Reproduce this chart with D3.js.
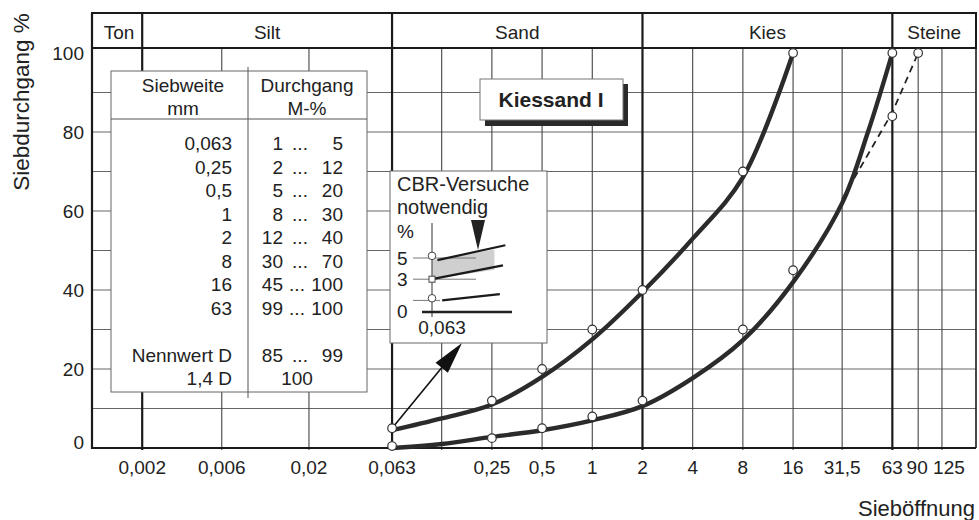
<!DOCTYPE html>
<html>
<head>
<meta charset="utf-8">
<script src="https://cdn.jsdelivr.net/npm/d3@7"></script>
<style>
  body { margin: 0; background: #fff; }
  svg text { font-family: "Liberation Sans", Arial, Helvetica, sans-serif; fill: #222; }
</style>
</head>
<body>
<div id="container"></div>
<script>
// sieve sizes (mm) used for labelled ticks and for the grid
var tickSizes = [0.002, 0.006, 0.02, 0.063, 0.25, 0.5, 1, 2, 4, 8, 16, 31.5, 63, 90, 125];
var gridSizes = [0.002, 0.006, 0.02, 0.063, 0.125, 0.25, 0.5, 1, 2, 4, 8, 16, 31.5, 63, 90, 125];
var classBounds = [0.002, 0.063, 2, 63];
var classNames = ["Ton", "Silt", "Sand", "Kies", "Steine"];
var yTicks = [0, 20, 40, 60, 80, 100];

// limit points from the table (circles)
var upperSieve = [0.063, 0.25, 0.5, 1, 2, 8, 16];
var upperPass = [5, 12, 20, 30, 40, 70, 100];
var lowerSieve = [0.063, 0.25, 0.5, 1, 2, 8, 16, 63];
var lowerPass = [0.5, 2.5, 5, 8, 12, 30, 45, 100];
var nennSieve = [63, 90];
var nennPass = [84, 100];

// drawn envelope curves
var upperCurveSieve = [0.063, 0.125, 0.25, 0.5, 1, 2, 4, 8, 16];
var upperCurvePass = [4.5, 7.5, 11, 18, 27.5, 39.5, 53, 68.5, 100];
var lowerCurveSieve = [0.063, 0.125, 0.25, 0.5, 1, 2, 4, 8, 16, 31.5, 45, 63];
var lowerCurvePass = [0, 1, 2.8, 4.5, 7, 10.6, 17.7, 27.3, 42, 62, 80, 100];
var dashSieve = [31.5, 63, 90];
var dashPass = [63, 85, 100];

// table
var tableSieve = ["0,063", "0,25", "0,5", "1", "2", "8", "16", "63", "", "Nennwert  D", "1,4 D"];
var tableLow = ["1", "2", "5", "8", "12", "30", "45", "99", "", "85", ""];
var tableHigh = ["5", "12", "20", "30", "40", "70", "100", "100", "", "99", ""];

// CBR inset
var cbrTicks = [0, 3, 5];

var W = 979, H = 520;
var svg = d3.select("#container").append("svg").attr("width", W).attr("height", H);

var x = d3.scaleLog().domain([0.001, 200]).range([92, 976]);
var y = d3.scaleLinear().domain([0, 100]).range([448, 53]);
var headTop = 13, headBot = 48;
var fmt = function (v) { return String(v).replace(".", ","); };

// horizontal grid
var hg = d3.range(10, 100, 10);
svg.append("g").selectAll("line").data(hg).enter().append("line")
    .attr("x1", x.range()[0]).attr("x2", x.range()[1])
    .attr("y1", function (d) { return y(d); }).attr("y2", function (d) { return y(d); })
    .attr("stroke", "#666").attr("stroke-width", 1);

// vertical grid
svg.append("g").selectAll("line").data(gridSizes).enter().append("line")
    .attr("x1", function (d) { return x(d); }).attr("x2", function (d) { return x(d); })
    .attr("y1", function (d) { return classBounds.indexOf(d) >= 0 ? headTop : headBot; })
    .attr("y2", y(0) + 2)
    .attr("stroke", function (d) { return classBounds.indexOf(d) >= 0 ? "#1a1a1a" : "#444"; })
    .attr("stroke-width", function (d) { return classBounds.indexOf(d) >= 0 ? 2.2 : 1.1; });

// frame
svg.append("rect").attr("x", x.range()[0]).attr("y", headTop)
    .attr("width", x.range()[1] - x.range()[0]).attr("height", headBot - headTop)
    .attr("fill", "none").attr("stroke", "#1a1a1a").attr("stroke-width", 2);
svg.append("line").attr("x1", x.range()[0]).attr("x2", x.range()[0]).attr("y1", headTop).attr("y2", y(0) + 1)
    .attr("stroke", "#1a1a1a").attr("stroke-width", 2.2);
svg.append("line").attr("x1", x.range()[1]).attr("x2", x.range()[1]).attr("y1", headTop).attr("y2", y(0))
    .attr("stroke", "#1a1a1a").attr("stroke-width", 1.6);
svg.append("line").attr("x1", x.range()[0]).attr("x2", x.range()[1]).attr("y1", y(0)).attr("y2", y(0))
    .attr("stroke", "#1a1a1a").attr("stroke-width", 2.2);

// class names in header
var edges = [x.range()[0]].concat(classBounds.map(x)).concat([x.range()[1]]);
svg.append("g").selectAll("text").data(classNames).enter().append("text")
    .attr("x", function (d, i) { return (edges[i] + edges[i + 1]) / 2 + (i === 0 ? 2 : 0); })
    .attr("y", 39)
    .attr("text-anchor", "middle").attr("font-size", 19)
    .text(function (d) { return d; });

// x tick labels
svg.append("g").selectAll("text").data(tickSizes).enter().append("text")
    .attr("x", function (d) { return x(d) + (d === 125 ? 7 : (d === 90 ? -1 : 0)); })
    .attr("y", 474).attr("text-anchor", "middle").attr("font-size", 19)
    .text(function (d) { return fmt(d); });

// y tick labels
svg.append("g").selectAll("text").data(yTicks).enter().append("text")
    .attr("x", 84).attr("y", function (d) { return y(d) + (d === 0 ? 1 : 7); })
    .attr("text-anchor", "end").attr("font-size", 19)
    .text(function (d) { return d; });

// axis titles
svg.append("text").attr("transform", "translate(29,102) rotate(-90)")
    .attr("text-anchor", "middle").attr("font-size", 22.5).text("Siebdurchgang %");
svg.append("text").attr("x", 975).attr("y", 516).attr("text-anchor", "end")
    .attr("font-size", 22).text("Sieböffnung");

// table box
var tb = { x0: 111, x1: 367, y0: 71, y1: 392, colX: 248, headLine: 119 };
svg.append("rect").attr("x", tb.x0).attr("y", tb.y0).attr("width", tb.x1 - tb.x0).attr("height", tb.y1 - tb.y0)
    .attr("fill", "#fff").attr("stroke", "#666").attr("stroke-width", 1);
svg.append("line").attr("x1", tb.x0).attr("x2", tb.x1).attr("y1", tb.headLine).attr("y2", tb.headLine)
    .attr("stroke", "#555").attr("stroke-width", 1);
svg.append("line").attr("x1", tb.colX).attr("x2", tb.colX).attr("y1", 67).attr("y2", 398)
    .attr("stroke", "#555").attr("stroke-width", 1);
var th = [["Siebweite", "mm", 183], ["Durchgang", "M-%", 307]];
th.forEach(function (h) {
    svg.append("text").attr("x", h[2]).attr("y", 92).attr("text-anchor", "middle").attr("font-size", 19).text(h[0]);
    svg.append("text").attr("x", h[2]).attr("y", 115).attr("text-anchor", "middle").attr("font-size", 19).text(h[1]);
});
var rowY = function (i) { return 150 + i * 23.5; };
var rows = svg.append("g");
tableSieve.forEach(function (s, i) {
    if (!s) return;
    rows.append("text").attr("x", 232).attr("y", rowY(i)).attr("text-anchor", "end").attr("font-size", 19).text(s);
    if (tableLow[i]) {
        rows.append("text").attr("x", 283).attr("y", rowY(i)).attr("text-anchor", "end").attr("font-size", 19).text(tableLow[i]);
        rows.append("text").attr("x", tableHigh[i].length > 2 ? 297 : 300).attr("y", rowY(i)).attr("text-anchor", "middle").attr("font-size", 19).text("...");
        rows.append("text").attr("x", 343).attr("y", rowY(i)).attr("text-anchor", "end").attr("font-size", 19).text(tableHigh[i]);
    } else {
        rows.append("text").attr("x", 297).attr("y", rowY(i)).attr("text-anchor", "middle").attr("font-size", 19).text("100");
    }
});

// Kiessand I label
svg.append("rect").attr("x", 485).attr("y", 84).attr("width", 143).attr("height", 42).attr("fill", "#2a2a2a");
svg.append("rect").attr("x", 480).attr("y", 79).attr("width", 143).attr("height", 41)
    .attr("fill", "#fff").attr("stroke", "#777").attr("stroke-width", 1);
svg.append("text").attr("x", 551).attr("y", 107).attr("text-anchor", "middle")
    .attr("font-size", 21).attr("font-weight", "bold").text("Kiessand I");

// curves
var line = d3.line().x(function (d) { return x(d[0]); }).y(function (d) { return y(d[1]); })
    .curve(d3.curveCatmullRom.alpha(0.5));
var zip = function (a, b) { return a.map(function (v, i) { return [v, b[i]]; }); };
svg.append("path").datum(zip(dashSieve, dashPass))
    .attr("d", d3.line().x(function (d) { return x(d[0]); }).y(function (d) { return y(d[1]); }))
    .attr("fill", "none").attr("stroke", "#222").attr("stroke-width", 1.8).attr("stroke-dasharray", "7,5");
[zip(upperCurveSieve, upperCurvePass), zip(lowerCurveSieve, lowerCurvePass)].forEach(function (c) {
    svg.append("path").datum(c).attr("d", line)
        .attr("fill", "none").attr("stroke", "#2b2b2b").attr("stroke-width", 4.4)
        .attr("stroke-linecap", "round");
});

// arrow from 0.063 point to the inset
var ax0 = x(0.063), ay0 = y(5), ax1 = 462, ay1 = 343;
svg.append("line").attr("x1", ax0).attr("y1", ay0).attr("x2", ax1 - 14).attr("y2", ay1 + 17)
    .attr("stroke", "#111").attr("stroke-width", 1.6);
var ang = Math.atan2(ay1 - ay0, ax1 - ax0), hl = 32, hw = 8;
var bx = ax1 - hl * Math.cos(ang), by = ay1 - hl * Math.sin(ang);
svg.append("path").attr("d", "M" + ax1 + "," + ay1 +
    "L" + (bx + hw * Math.sin(ang)) + "," + (by - hw * Math.cos(ang)) +
    "L" + (bx - hw * Math.sin(ang)) + "," + (by + hw * Math.cos(ang)) + "Z")
    .attr("fill", "#111");

// limit circles
var pts = zip(upperSieve, upperPass).concat(zip(lowerSieve, lowerPass)).concat(zip(nennSieve, nennPass));
svg.append("g").selectAll("circle").data(pts).enter().append("circle")
    .attr("cx", function (d) { return x(d[0]); }).attr("cy", function (d) { return y(d[1]); })
    .attr("r", 4.3).attr("fill", "#fff").attr("stroke", "#333").attr("stroke-width", 1.2);

// CBR inset
var ib = { x0: 390, y0: 171, x1: 547, y1: 343 };
svg.append("rect").attr("x", ib.x0).attr("y", ib.y0).attr("width", ib.x1 - ib.x0).attr("height", ib.y1 - ib.y0)
    .attr("fill", "#fff").attr("stroke", "#666").attr("stroke-width", 1);
svg.append("text").attr("x", 397).attr("y", 191).attr("font-size", 20).text("CBR-Versuche");
svg.append("text").attr("x", 397).attr("y", 214).attr("font-size", 20).text("notwendig");
svg.append("text").attr("x", 397).attr("y", 238).attr("font-size", 19).text("%");
var iy = d3.scaleLinear().domain([0, 5]).range([311, 258]);
var ix = d3.scaleLinear().domain([0, 1]).range([432, 510]);
// shaded band between 3 % and 5 %
svg.append("path").attr("d", "M" + ix(0) + "," + iy(4.8) + "L" + ix(0.8) + "," + iy(5.8) +
    "L" + ix(0.8) + "," + iy(3.9) + "L" + ix(0) + "," + iy(3) + "Z")
    .attr("fill", "#cfcfcf");
cbrTicks.forEach(function (t) {
    svg.append("text").attr("x", 397).attr("y", iy(t) + 7).attr("font-size", 19).text(t);
    if (t > 0) svg.append("line").attr("x1", 413).attr("x2", 476).attr("y1", iy(t)).attr("y2", iy(t))
        .attr("stroke", "#777").attr("stroke-width", 1);
});
svg.append("line").attr("x1", 413).attr("x2", 440).attr("y1", iy(1)).attr("y2", iy(1)).attr("stroke", "#777");
svg.append("line").attr("x1", ix(0)).attr("x2", ix(0)).attr("y1", 223).attr("y2", 317).attr("stroke", "#555").attr("stroke-width", 1.2);
svg.append("line").attr("x1", 422).attr("x2", 512).attr("y1", 312).attr("y2", 312).attr("stroke", "#222").attr("stroke-width", 2.4);
var cbrLines = [[0.07, 4.8, 0.94, 6.2], [0, 3, 0.91, 4.3], [0.13, 1, 0.87, 1.6]];
cbrLines.forEach(function (l) {
    svg.append("line").attr("x1", ix(l[0])).attr("y1", iy(l[1])).attr("x2", ix(l[2])).attr("y2", iy(l[3]))
        .attr("stroke", "#1a1a1a").attr("stroke-width", 2.2);
});
svg.append("circle").attr("cx", ix(0)).attr("cy", iy(5.2)).attr("r", 3.8).attr("fill", "#fff").attr("stroke", "#444");
svg.append("rect").attr("x", ix(0) - 3).attr("y", iy(3) - 3).attr("width", 6).attr("height", 6).attr("fill", "#fff").attr("stroke", "#444");
svg.append("circle").attr("cx", ix(0)).attr("cy", iy(1.2)).attr("r", 3.8).attr("fill", "#fff").attr("stroke", "#444");
svg.append("path").attr("d", "M471,220L485,220L478,250Z").attr("fill", "#222");
svg.append("text").attr("x", 442).attr("y", 334).attr("text-anchor", "middle").attr("font-size", 19).text("0,063");
</script>
</body>
</html>
